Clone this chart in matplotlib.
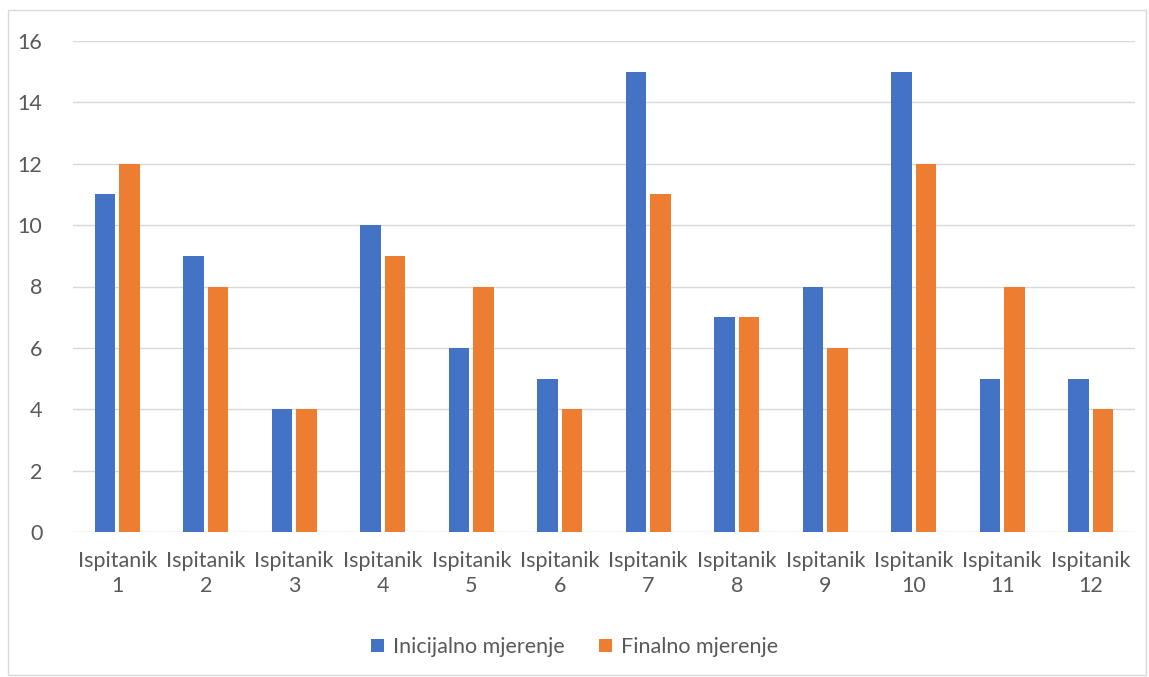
import matplotlib.pyplot as plt
import numpy as np

plt.rcParams['font.family'] = ['Lato', 'DejaVu Sans']

categories = ['Ispitanik\n%d' % i for i in range(1, 13)]
inicijalno = [11, 9, 4, 10, 6, 5, 15, 7, 8, 15, 5, 5]
finalno = [12, 8, 4, 9, 8, 4, 11, 7, 6, 12, 8, 4]

fig = plt.figure(figsize=(11.49, 6.77), dpi=100)
ax = fig.add_axes([73 / 1149, 1 - 532 / 677, (1135 - 73) / 1149, (532 - 41) / 677])

x = np.arange(len(categories))
w = 0.23
ax.bar(x - 0.14, inicijalno, w, color='#4472C4', label='Inicijalno mjerenje', zorder=3)
ax.bar(x + 0.14, finalno, w, color='#ED7D31', label='Finalno mjerenje', zorder=3)

ax.set_xlim(-0.5, len(categories) - 0.5)
ax.set_ylim(0, 16)
ax.set_yticks(range(0, 17, 2))
ax.set_xticks(x)
ax.set_xticklabels(categories, fontsize=15.5, color='#595959', linespacing=1.3)
ax.tick_params(axis='y', labelsize=15.5, labelcolor='#595959', length=0, pad=22)
ax.tick_params(axis='x', length=0, pad=14)
ax.grid(axis='y', color='#D9D9D9', linewidth=1, zorder=0)
for s in ax.spines.values():
    s.set_visible(False)

fig.legend(loc='center', bbox_to_anchor=(0.5, 1 - 647 / 677), ncol=2, frameon=False,
           fontsize=15.5, labelcolor='#595959', handlelength=0.6, handleheight=0.6,
           columnspacing=1.6, handletextpad=0.4)

border = plt.Rectangle((8 / 1149, 2 / 677), 1138 / 1149, 665 / 677, transform=fig.transFigure,
                       fill=False, edgecolor='#D9D9D9', linewidth=1)
fig.patches.append(border)

fig.savefig('out.png', dpi=100)
